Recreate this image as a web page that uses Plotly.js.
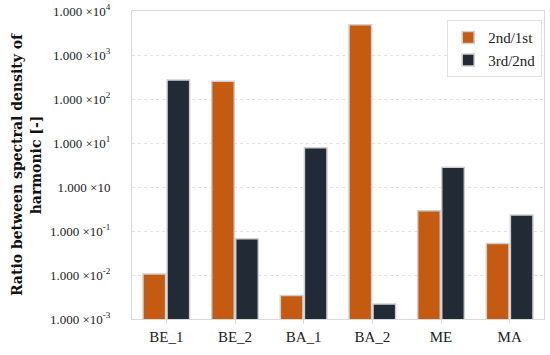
<!DOCTYPE html>
<html>
<head>
<meta charset="utf-8">
<script src="https://cdn.plot.ly/plotly-3.0.1.min.js"></script>
<style>html,body{margin:0;padding:0;background:#fff;}#chart{width:550px;height:355px;}</style>
</head>
<body>
<div id="chart"></div>
<script>
var categories = ["BE_1", "BE_2", "BA_1", "BA_2", "ME", "MA"];
var ratio2nd1st = [0.0105, 254, 0.0034, 4860, 0.29, 0.052];
var ratio3rd2nd = [272, 0.067, 7.8, 0.0022, 2.8, 0.23];
var seriesNames = ["2nd/1st", "3rd/2nd"];
var tickVals = [0.001, 0.01, 0.1, 1, 10, 100, 1000, 10000];
var tickText = ["1.000 ×10<sup>-3</sup>", "1.000 ×10<sup>-2</sup>", "1.000 ×10<sup>-1</sup>", "1.000 ×10",
                "1.000 ×10<sup>1</sup>", "1.000 ×10<sup>2</sup>", "1.000 ×10<sup>3</sup>", "1.000 ×10<sup>4</sup>"];

var font = "Liberation Serif, DejaVu Serif, serif";
var traces = [
  {type: "bar", name: seriesNames[0], x: categories, y: ratio2nd1st,
   marker: {color: "#C55A11", line: {color: "#D0D0D0", width: 1.5}}},
  {type: "bar", name: seriesNames[1], x: categories, y: ratio3rd2nd,
   marker: {color: "#222A35", line: {color: "#D0D0D0", width: 1.5}}}
];
var layout = {
  width: 550, height: 355,
  margin: {l: 132, r: 6, t: 11, b: 36},
  paper_bgcolor: "#fff", plot_bgcolor: "#fff",
  font: {family: font, size: 12, color: "#222"},
  barmode: "group", bargap: 0.3, bargroupgap: 0.06,
  showlegend: true,
  legend: {x: 0.765, y: 0.97, xanchor: "left", yanchor: "top",
           bgcolor: "#fff", bordercolor: "#E3E3E3", borderwidth: 1,
           font: {family: font, size: 15, color: "#222"}, tracegroupgap: 4},
  xaxis: {showline: true, linecolor: "#D9D9D9", linewidth: 1, mirror: true,
          ticks: "outside", ticklen: 4, tickcolor: "#D9D9D9",
          tickfont: {family: font, size: 15, color: "#222"}, showgrid: false},
  yaxis: {type: "log", range: [-3, 4], tickvals: tickVals, ticktext: tickText,
          showline: true, linecolor: "#D9D9D9", linewidth: 1, mirror: true,
          showgrid: true, gridcolor: "#E3E3E3", griddash: "dot", gridwidth: 1,
          ticks: "", ticklabelstandoff: 18, ticklabeloverflow: "allow",
          tickfont: {family: font, size: 13, color: "#222"},
          title: {text: "<b>Ratio between spectral density of<br>harmonic [-]</b>",
                  font: {family: "DejaVu Serif, serif", size: 14, color: "#111"}, standoff: 5}}
};
Plotly.newPlot("chart", traces, layout, {displayModeBar: false, staticPlot: true});
</script>
</body>
</html>
